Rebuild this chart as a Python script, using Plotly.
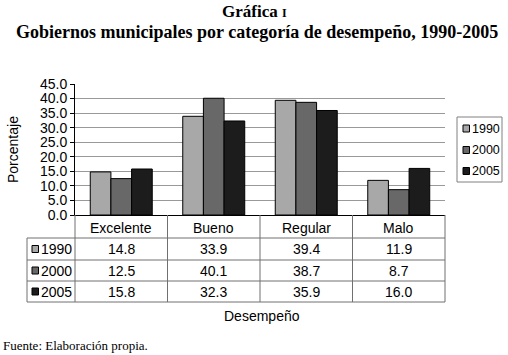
import plotly.graph_objects as go

categories = ["Excelente", "Bueno", "Regular", "Malo"]
series_names = ["1990", "2000", "2005"]
values_1990 = [14.8, 33.9, 39.4, 11.9]
values_2000 = [12.5, 40.1, 38.7, 8.7]
values_2005 = [15.8, 32.3, 35.9, 16.0]
series_values = [values_1990, values_2000, values_2005]
colors = ["#a8a8a8", "#686868", "#1c1c1c"]

W, H = 508, 355
L, R, T, B = 75, 445, 84, 215
pw, ph = R - L, B - T

def px(x):
    return (x - L) / pw

def py(y):
    return (B - y) / ph

SANS = "Liberation Sans, Arial, sans-serif"
SERIF = "Liberation Serif, Times New Roman, serif"
FS = 14

fig = go.Figure()
for name, vals, col in zip(series_names, series_values, colors):
    fig.add_trace(go.Bar(x=categories, y=vals, name=name,
                         marker=dict(color=col, line=dict(color="black", width=1)),
                         showlegend=False))

fig.update_layout(
    width=W, height=H,
    margin=dict(l=L, r=W - R, t=T, b=H - B, pad=0),
    paper_bgcolor="white", plot_bgcolor="white",
    barmode="group", bargap=0.33, bargroupgap=0,
    font=dict(family=SANS, size=FS, color="black"),
)
fig.update_yaxes(range=[0, 45], dtick=5, tickformat=".1f", showgrid=True,
                 gridcolor="#999999", gridwidth=1, showline=True, linecolor="black",
                 linewidth=1, ticks="outside", ticklen=4, tickcolor="black",
                 zeroline=False, tickfont=dict(family=SANS, size=FS))
fig.update_xaxes(showticklabels=False, showline=True, linecolor="black", linewidth=1,
                 ticks="", showgrid=False, range=[-0.5, 3.5])

shapes = []
line_col = "#707070"
row_lines = [238, 260, 281, 302]
table_left = 27
for yl in row_lines:
    shapes.append(dict(type="line", xref="paper", yref="paper", x0=px(table_left), x1=1,
                       y0=py(yl), y1=py(yl), line=dict(color=line_col, width=1)))
for k in range(1, len(categories)):
    xv = k / len(categories)
    shapes.append(dict(type="line", xref="paper", yref="paper", x0=xv, x1=xv,
                       y0=0, y1=py(302), line=dict(color=line_col, width=1)))
shapes.append(dict(type="line", xref="paper", yref="paper", x0=1, x1=1,
                   y0=0, y1=py(302), line=dict(color=line_col, width=1)))
shapes.append(dict(type="line", xref="paper", yref="paper", x0=0, x1=0,
                   y0=0, y1=py(302), line=dict(color=line_col, width=1)))
shapes.append(dict(type="line", xref="paper", yref="paper", x0=px(table_left), x1=px(table_left),
                   y0=py(238), y1=py(302), line=dict(color=line_col, width=1)))

annotations = []
for c in categories:
    annotations.append(dict(x=c, xref="x", y=py(227.5), yref="paper", text=c,
                            showarrow=False, font=dict(family=SANS, size=FS),
                            xanchor="center", yanchor="middle"))
row_centers = [249, 270.5, 291.5]
for i, (name, vals, col) in enumerate(zip(series_names, series_values, colors)):
    yc = row_centers[i]
    for c, v in zip(categories, vals):
        annotations.append(dict(x=c, xref="x", y=py(yc), yref="paper", text=f"{v:.1f}",
                                showarrow=False, font=dict(family=SANS, size=FS),
                                xanchor="center", yanchor="middle"))
    shapes.append(dict(type="rect", xref="paper", yref="paper",
                       x0=px(32), x1=px(38.5), y0=py(yc - 3.5), y1=py(yc + 3.5),
                       fillcolor=col, line=dict(color="black", width=1)))
    annotations.append(dict(x=px(38.5), xref="paper", y=py(yc), yref="paper", text=name,
                            showarrow=False, font=dict(family=SANS, size=FS),
                            xanchor="left", yanchor="middle"))

shapes.append(dict(type="rect", xref="paper", yref="paper", x0=px(457), x1=px(502),
                   y0=py(117), y1=py(182), line=dict(color="#808080", width=1),
                   fillcolor="white"))
leg_y = [128.5, 150, 171]
for i, (name, col) in enumerate(zip(series_names, colors)):
    shapes.append(dict(type="rect", xref="paper", yref="paper",
                       x0=px(463), x1=px(469.5), y0=py(leg_y[i] - 3.5), y1=py(leg_y[i] + 3.5),
                       fillcolor=col, line=dict(color="black", width=1)))
    annotations.append(dict(x=px(469.5), xref="paper", y=py(leg_y[i]), yref="paper", text=name,
                            showarrow=False, font=dict(family=SANS, size=12.5),
                            xanchor="left", yanchor="middle"))

annotations.append(dict(x=px(13), xref="paper", y=py(150), yref="paper", text="Porcentaje",
                        textangle=-90, showarrow=False, font=dict(family=SANS, size=FS),
                        xanchor="center", yanchor="middle"))
annotations.append(dict(x=px(262), xref="paper", y=py(316), yref="paper", text="Desempeño",
                        showarrow=False, font=dict(family=SANS, size=FS),
                        xanchor="center", yanchor="middle"))
annotations.append(dict(x=px(254), xref="paper", y=py(11), yref="paper",
                        text="<b>Gráfica <span style='font-size:12px'>I</span></b>",
                        showarrow=False, font=dict(family=SERIF, size=17),
                        xanchor="center", yanchor="middle"))
annotations.append(dict(x=px(257), xref="paper", y=py(32), yref="paper",
                        text="<b>Gobiernos municipales por categoría de desempeño, 1990-2005</b>",
                        showarrow=False, font=dict(family=SERIF, size=18),
                        xanchor="center", yanchor="middle"))
annotations.append(dict(x=px(1), xref="paper", y=py(345), yref="paper",
                        text="Fuente: Elaboración propia.",
                        showarrow=False, font=dict(family=SERIF, size=13),
                        xanchor="left", yanchor="middle"))

fig.update_layout(shapes=shapes, annotations=annotations)
fig.write_html("out.html", config={"displayModeBar": False},
               post_script="document.body.style.margin='0';document.body.style.overflow='hidden';")
